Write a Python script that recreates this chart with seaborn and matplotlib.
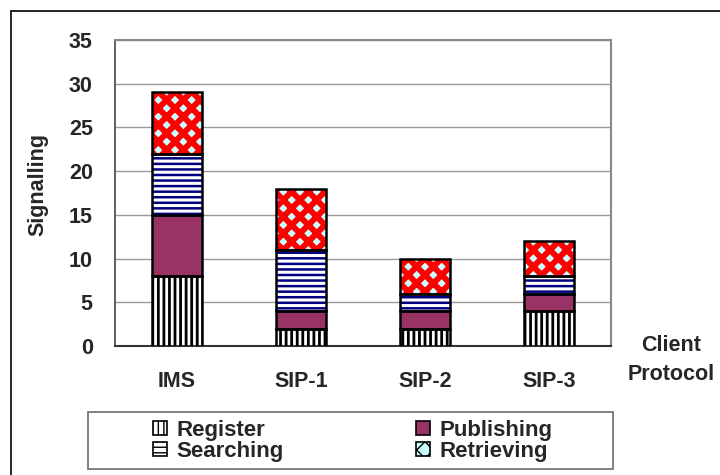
import matplotlib
matplotlib.use("Agg")
import matplotlib.pyplot as plt
import seaborn as sns
import numpy as np
from matplotlib.patches import Rectangle, Patch
from matplotlib.lines import Line2D

categories = ["IMS", "SIP-1", "SIP-2", "SIP-3"]
register = [8, 2, 2, 4]
publishing = [7, 2, 2, 2]
searching = [7, 7, 2, 2]
retrieving = [7, 7, 4, 4]
series_names = ["Register", "Publishing", "Searching", "Retrieving"]
y_ticks = [0, 5, 10, 15, 20, 25, 30, 35]

sns.set_style("white")
plt.rcParams["font.family"] = ["Liberation Sans", "DejaVu Sans"]
plt.rcParams["font.weight"] = "bold"

FS = 15.5

fig = plt.figure(figsize=(7.2, 4.75), dpi=100)
ax = fig.add_axes([115/720, 1-346/475, (611-115)/720, (346-40)/475])

styles = [
    dict(face="white", hcol="black", hatch="|||", hlw=2.0),
    dict(face="#993366", hcol="#993366", hatch=None, hlw=1.0),
    dict(face="white", hcol="#000080", hatch="---", hlw=1.8),
    dict(face="#CCFFFF", hcol="#FF0000", hatch="xx", hlw=4.3),
]
data = [register, publishing, searching, retrieving]

bottom = np.zeros(len(categories))
for vals, st in zip(data, styles):
    before = len(ax.patches)
    sns.barplot(x=categories, y=vals, bottom=bottom, color=st["face"],
                saturation=1, width=0.4, ax=ax, hatch=st["hatch"],
                edgecolor=st["hcol"], linewidth=0, zorder=3)
    for p in ax.patches[before:]:
        p.set_facecolor(st["face"])
        p.set_edgecolor(st["hcol"])
        p.set_linewidth(0)
        if hasattr(p, "set_hatch_linewidth"):
            p.set_hatch_linewidth(st["hlw"])
    before = len(ax.patches)
    sns.barplot(x=categories, y=vals, bottom=bottom, color="black",
                fill=False, width=0.4, ax=ax, linewidth=1.8, zorder=4)
    for p in ax.patches[before:]:
        p.set_facecolor("none")
        p.set_edgecolor("black")
        p.set_linewidth(1.8)
    bottom = bottom + np.array(vals)

ax.set_xlim(-0.5, 3.5)
ax.set_ylim(0, 35)
ax.set_yticks(y_ticks)
ax.set_yticklabels([str(t) for t in y_ticks], fontsize=FS, fontweight="bold")
ax.set_xticks(range(len(categories)))
ax.set_xticklabels(categories, fontsize=FS, fontweight="bold")
ax.set_xticks(np.arange(-0.5, 4.0, 1.0), minor=True)
ax.tick_params(axis="x", which="major", length=0, pad=18)
ax.tick_params(axis="x", which="minor", length=6, width=1.2, color="#555555", direction="out")
ax.tick_params(axis="y", length=7, width=1.2, color="#555555", direction="out", pad=9)
ax.yaxis.grid(True, color="#9a9a9a", linewidth=1.0)
ax.xaxis.grid(False)
ax.set_axisbelow(True)
for s in ["top", "right"]:
    ax.spines[s].set_color("#888888")
    ax.spines[s].set_linewidth(1.5)
ax.spines["left"].set_color("#444444")
ax.spines["left"].set_linewidth(1.2)
ax.spines["bottom"].set_color("#333333")
ax.spines["bottom"].set_linewidth(1.5)
ax.set_xlabel("")
ax.set_ylabel("Signalling", fontsize=FS, fontweight="bold")
ax.yaxis.set_label_coords((48-115)/496, (346-184)/306)

fig.text(671/720, 1-360/475, "Client\nProtocol", ha="center", va="center",
         fontsize=FS, fontweight="bold", linespacing=1.45)

# legend
handles = []
for name, st in zip(series_names, styles):
    h = Patch(facecolor=st["face"], edgecolor=st["hcol"], hatch=st["hatch"], linewidth=0)
    handles.append(h)
order = [0, 2, 1, 3]
leg = fig.legend([handles[i] for i in order], [series_names[i] for i in order],
                 ncol=2, frameon=False, loc="center",
                 bbox_to_anchor=(353/720, 1-441/475),
                 prop=dict(size=16, weight="bold"),
                 handlelength=0.6, handleheight=0.6, handletextpad=0.45,
                 columnspacing=5.95, labelspacing=0.0, borderpad=0)
for h in leg.legend_handles:
    h.set_edgecolor("black")
    h.set_linewidth(1.2)
fig.patches.append(Rectangle((88/720, 1-469/475), (613-88)/720, (469-412)/475,
                             transform=fig.transFigure, fill=False,
                             edgecolor="#777777", linewidth=1.3))
# outer frame
fig.lines.append(Line2D([11/720, 11/720], [0, 1-11/475], transform=fig.transFigure,
                        color="black", linewidth=1.2))
fig.lines.append(Line2D([11/720, 1], [1-11/475, 1-11/475], transform=fig.transFigure,
                        color="black", linewidth=1.2))

fig.savefig("out.png", dpi=100)
